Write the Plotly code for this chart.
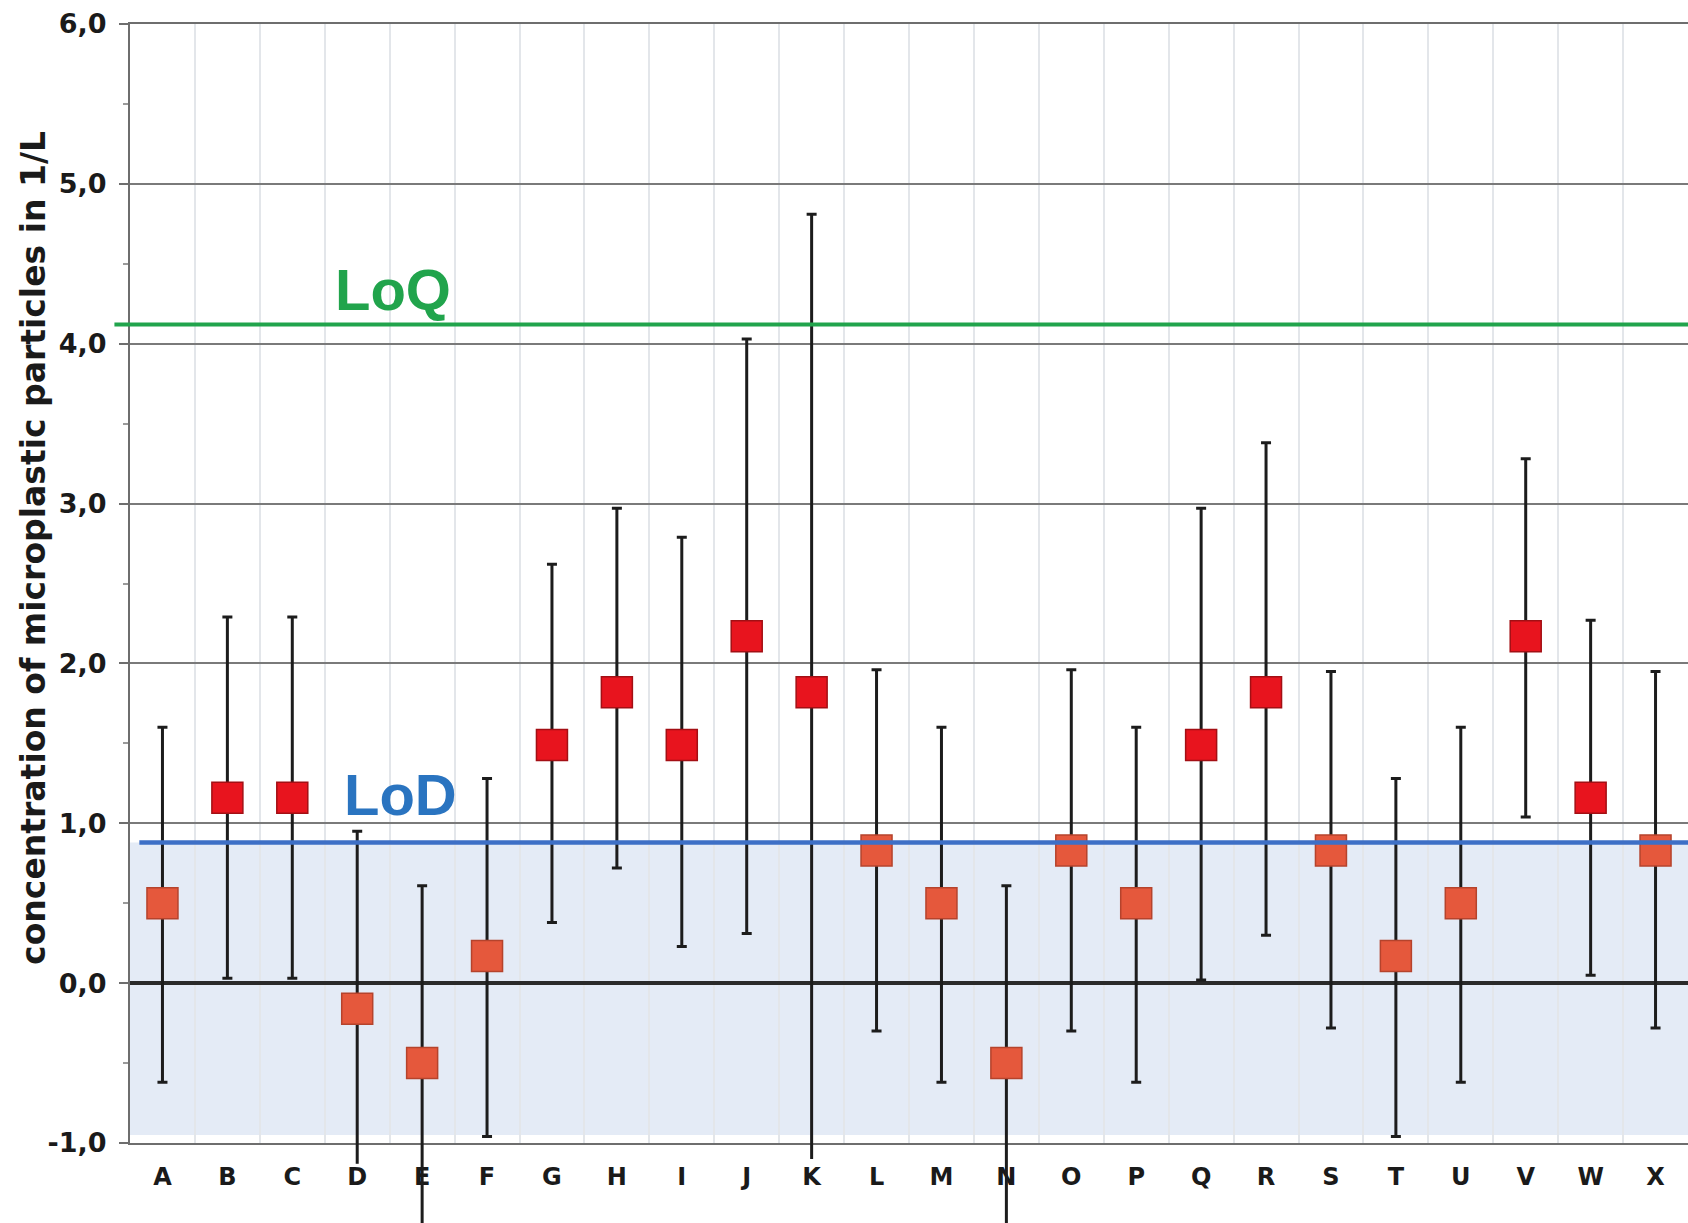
import plotly.graph_objects as go

# Sample sites and measured microplastic concentrations (1/L) with confidence limits
sites = ["A", "B", "C", "D", "E", "F", "G", "H", "I", "J", "K", "L",
         "M", "N", "O", "P", "Q", "R", "S", "T", "U", "V", "W", "X"]
conc = [0.50, 1.16, 1.16, -0.16, -0.50, 0.17, 1.49, 1.82, 1.49, 2.17, 1.82, 0.83,
        0.50, -0.50, 0.83, 0.50, 1.49, 1.82, 0.83, 0.17, 0.50, 2.17, 1.16, 0.83]
upper = [1.60, 2.29, 2.29, 0.95, 0.61, 1.28, 2.62, 2.97, 2.79, 4.03, 4.81, 1.96,
         1.60, 0.61, 1.96, 1.60, 2.97, 3.38, 1.95, 1.28, 1.60, 3.28, 2.27, 1.95]
lower = [-0.62, 0.03, 0.03, -1.13, -1.70, -0.96, 0.38, 0.72, 0.23, 0.31, -1.10, -0.30,
         -0.62, -1.70, -0.30, -0.62, 0.02, 0.30, -0.28, -0.96, -0.62, 1.04, 0.05, -0.28]

LOQ = 4.12   # limit of quantification
LOD = 0.88   # limit of detection

y_ticks = [-1, 0, 1, 2, 3, 4, 5, 6]
y_tick_labels = ["-1,0", "0,0", "1,0", "2,0", "3,0", "4,0", "5,0", "6,0"]
Y_MIN, Y_MAX = -1, 6

FONT = "Liberation Sans, Arial, Helvetica, sans-serif"
TICK_FONT = "DejaVu Sans, Verdana, sans-serif"
RED = "#e8141e"
RED_EDGE = "#a30f14"
ORANGE = "#e5583c"
ORANGE_EDGE = "#b5432c"
BAR = "#1c1c1c"

# values below the detection limit are drawn in orange, the others in red
fills = [ORANGE if c < LOD else RED for c in conc]
edges = [ORANGE_EDGE if c < LOD else RED_EDGE for c in conc]

fig = go.Figure()
fig.add_trace(go.Scatter(
    x=sites, y=conc, mode="markers", cliponaxis=False, showlegend=False,
    marker=dict(symbol="square", size=31, color=fills,
                line=dict(color=edges, width=1.5)),
    error_y=dict(type="data", symmetric=False,
                 array=[u - c for u, c in zip(upper, conc)],
                 arrayminus=[c - l for l, c in zip(lower, conc)],
                 color=BAR, thickness=3, width=5),
))

# lower limits beyond the axis range continue below the plot area
for s, lo in zip(sites, lower):
    if lo < Y_MIN:
        fig.add_shape(type="line", xref="x", yref="paper", x0=s, x1=s,
                      y0=0, y1=(lo - Y_MIN) / (Y_MAX - Y_MIN),
                      line=dict(color=BAR, width=3), layer="above")

# shaded band below the detection limit
fig.add_shape(type="rect", xref="x domain", yref="y", x0=0, x1=1,
              y0=-0.95, y1=LOD, fillcolor="#e4ebf6", line_width=0, layer="below")

# LoQ / LoD reference lines
fig.add_shape(type="line", xref="paper", yref="y", x0=-0.01, x1=1, y0=LOQ, y1=LOQ,
              line=dict(color="#21a44c", width=4), layer="above")
fig.add_shape(type="line", xref="paper", yref="y", x0=0.006, x1=1, y0=LOD, y1=LOD,
              line=dict(color="#3d6fc6", width=4.5), layer="above")

fig.add_annotation(x=3.55, y=LOQ + 0.22, xref="x", yref="y", text="<b>LoQ</b>",
                   showarrow=False, font=dict(family=FONT, size=58, color="#21a44c"))
fig.add_annotation(x=3.66, y=LOD + 0.30, xref="x", yref="y", text="<b>LoD</b>",
                   showarrow=False, font=dict(family=FONT, size=58, color="#2a74c0"))

fig.add_annotation(x=-0.0615, y=0.532, xref="paper", yref="paper", textangle=-90,
                   text="<b>concentration of microplastic particles in 1/L</b>",
                   showarrow=False, xanchor="center", yanchor="middle",
                   font=dict(family=TICK_FONT, size=33, color="#1a1a1a"))

fig.update_xaxes(
    range=[-0.5, 23.5], tickmode="array", tickvals=sites,
    ticktext=sites, ticks="", showgrid=False, zeroline=False,
    showline=True, mirror=True, linecolor="#6e6e6e", linewidth=2,
    ticklabelstandoff=11,
    tickfont=dict(family=TICK_FONT, size=24, color="#1a1a1a", weight="bold"),
    minor=dict(tickmode="array", tickvals=[i + 0.5 for i in range(len(sites))],
               showgrid=True, gridcolor="#e3e6ea", gridwidth=1.5, ticks=""),
)
fig.update_yaxes(
    range=[Y_MIN, Y_MAX], tickmode="array", tickvals=y_ticks, ticktext=y_tick_labels,
    showgrid=True, gridcolor="#7a7a7a", gridwidth=2,
    zeroline=True, zerolinecolor="#2a2a2a", zerolinewidth=3.5,
    showline=True, linecolor="#6e6e6e", linewidth=2,
    ticks="outside", ticklen=9, tickwidth=2, tickcolor="#6e6e6e",
    ticklabelstandoff=7,
    tickfont=dict(family=TICK_FONT, size=27, color="#1a1a1a", weight="bold"),
    minor=dict(dtick=0.5, ticks="outside", ticklen=5, tickcolor="#9a9a9a",
               tickwidth=1.5, showgrid=False),
)

fig.update_layout(
    width=1688, height=1223,
    margin=dict(l=130, r=0, t=24, b=80),
    paper_bgcolor="white", plot_bgcolor="white",
    showlegend=False,
)

fig.write_html("out.html")
